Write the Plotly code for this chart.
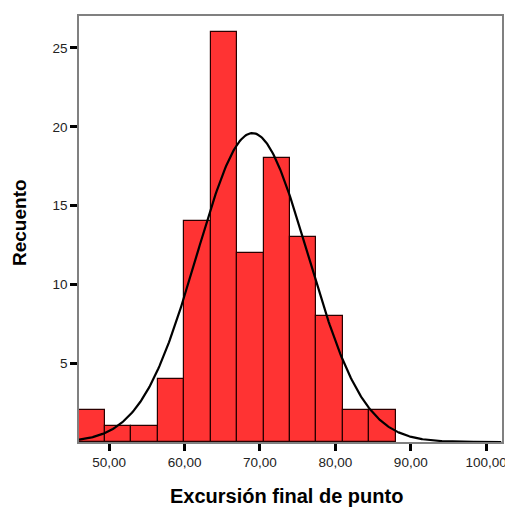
import numpy as np
import plotly.graph_objects as go

# Histogram bins (lower edge of first bin and common bin width) and counts
bin_start = 45.9
bin_width = 3.51
counts = [2, 1, 1, 4, 14, 26, 12, 18, 13, 8, 2, 2]

# Fitted normal curve parameters
mean_val = 69.0
sd_val = 7.36
n_total = sum(counts)

x_ticks = [50, 60, 70, 80, 90, 100]
x_tick_labels = ["50,00", "60,00", "70,00", "80,00", "90,00", "100,00"]
y_ticks = [5, 10, 15, 20, 25]

centers = [bin_start + bin_width * (i + 0.5) for i in range(len(counts))]

xs = np.linspace(46.0, 102.0, 400)
ys = n_total * bin_width / (sd_val * np.sqrt(2 * np.pi)) * np.exp(-0.5 * ((xs - mean_val) / sd_val) ** 2)

fig = go.Figure()
fig.add_trace(go.Bar(
    x=centers, y=counts, width=[bin_width] * len(counts),
    marker=dict(color="#FF3333", line=dict(color="#2a0000", width=1.2)),
    hoverinfo="x+y",
))
fig.add_trace(go.Scatter(
    x=xs, y=ys, mode="lines",
    line=dict(color="black", width=2.2),
    hoverinfo="skip",
))

fig.update_layout(
    width=505, height=508,
    margin=dict(l=79, r=3, t=16, b=66),
    paper_bgcolor="white", plot_bgcolor="white",
    showlegend=False,
    bargap=0,
    font=dict(family="Liberation Sans, Arial, sans-serif", color="#222222", size=13),
    xaxis=dict(
        range=[46.0, 102.1],
        tickvals=x_ticks, ticktext=x_tick_labels,
        ticks="outside", ticklen=7, tickwidth=3, tickcolor="black",
        showline=True, linecolor="#808080", linewidth=1.5, mirror=True,
        showgrid=False, zeroline=False, automargin=False,
        ticklabeloverflow="allow",
        tickfont=dict(size=13.5, color="#222222"),
    ),
    yaxis=dict(
        range=[0, 27.03],
        tickvals=y_ticks,
        ticks="outside", ticklen=7, tickwidth=3, tickcolor="black",
        showline=True, linecolor="#808080", linewidth=1.5, mirror=True,
        showgrid=False, zeroline=False, automargin=False,
        tickfont=dict(size=13.5, color="#222222"),
    ),
    annotations=[
        dict(text="<b>Excursión final de punto</b>", xref="paper", yref="paper",
             x=(286 - 79) / 423, y=-(496 - 442) / 426, showarrow=False,
             xanchor="center", yanchor="middle",
             font=dict(size=20, color="black")),
        dict(text="<b>Recuento</b>", xref="paper", yref="paper",
             x=-(79 - 19) / 423, y=(442 - 222) / 426, showarrow=False,
             textangle=-90, xanchor="center", yanchor="middle",
             font=dict(size=19, color="black")),
    ],
)

fig.write_html("out.html")
